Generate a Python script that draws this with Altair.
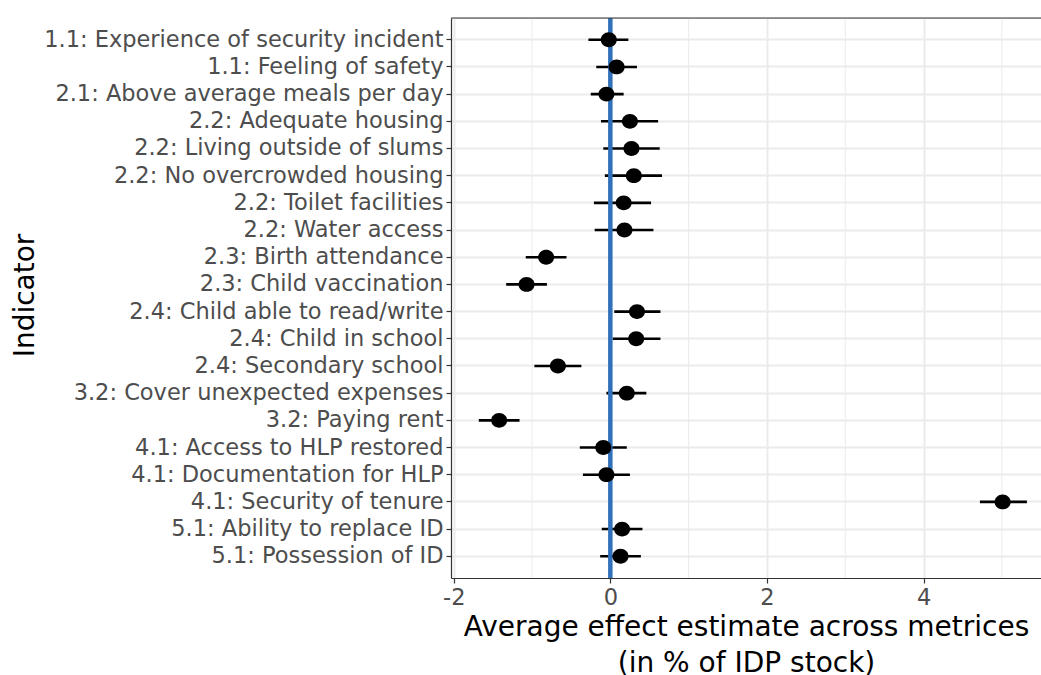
import altair as alt
import pandas as pd

indicators = [
    "1.1: Experience of security incident",
    "1.1: Feeling of safety",
    "2.1: Above average meals per day",
    "2.2: Adequate housing",
    "2.2: Living outside of slums",
    "2.2: No overcrowded housing",
    "2.2: Toilet facilities",
    "2.2: Water access",
    "2.3: Birth attendance",
    "2.3: Child vaccination",
    "2.4: Child able to read/write",
    "2.4: Child in school",
    "2.4: Secondary school",
    "3.2: Cover unexpected expenses",
    "3.2: Paying rent",
    "4.1: Access to HLP restored",
    "4.1: Documentation for HLP",
    "4.1: Security of tenure",
    "5.1: Ability to replace ID",
    "5.1: Possession of ID",
]
estimate = [-0.02, 0.08, -0.05, 0.25, 0.27, 0.30, 0.17, 0.18, -0.82, -1.07,
            0.34, 0.33, -0.67, 0.21, -1.42, -0.09, -0.05, 5.01, 0.15, 0.13]
ci_low = [-0.28, -0.18, -0.25, -0.12, -0.09, -0.07, -0.21, -0.20, -1.08, -1.33,
          0.05, 0.03, -0.97, -0.05, -1.68, -0.39, -0.35, 4.72, -0.11, -0.13]
ci_high = [0.23, 0.34, 0.17, 0.61, 0.63, 0.66, 0.52, 0.55, -0.56, -0.81,
           0.64, 0.64, -0.37, 0.46, -1.16, 0.21, 0.25, 5.32, 0.41, 0.39]
major_ticks = [-2, 0, 2, 4]
minor_breaks = [-1, 1, 3, 5]
reference_line = [0]

df = pd.DataFrame({"Indicator": indicators, "est": estimate, "lo": ci_low, "hi": ci_high})

FONT = "DejaVu Sans"
W, H = 590, 560
LABEL_SIZE = 22.5
TITLE_SIZE = 28
x_scale = alt.Scale(domain=[-2.035, 5.5], nice=False, zero=False)
y_scale = alt.Scale(padding=0.6)

y_axis = alt.Axis(
    title="Indicator", labelFontSize=LABEL_SIZE, labelColor="#4D4D4D", labelFont=FONT,
    titleFontSize=TITLE_SIZE, titleColor="black", titleFontWeight="normal", titleFont=FONT,
    tickColor="#333333", tickSize=5, tickWidth=1.2, labelPadding=3,
    domainColor="#333333", domainWidth=1.2, grid=True, gridColor="#EBEBEB",
    gridWidth=2, labelLimit=0, titleX=-418, titleY=H / 2 - 3, titleAngle=-90,
    titleBaseline="alphabetic", titleAlign="center",
)
x_axis = alt.Axis(
    values=major_ticks, title=["Average effect estimate across metrices", "(in % of IDP stock)"],
    labelExpr="datum.value < 0 ? '-' + abs(datum.value) : '' + datum.value",
    labelFontSize=LABEL_SIZE, labelColor="#4D4D4D", labelFont=FONT, labelPadding=3,
    titleFontSize=TITLE_SIZE, titleColor="black", titleFontWeight="normal", titleFont=FONT,
    titleLineHeight=36, titlePadding=5,
    tickColor="#333333", tickSize=5, tickWidth=1.2, domainColor="#333333",
    domainWidth=1.2, grid=True, gridColor="#EBEBEB", gridWidth=2,
)

minor = alt.Chart(pd.DataFrame({"m": minor_breaks})).mark_rule(
    color="#EBEBEB", strokeWidth=1
).encode(x=alt.X("m:Q", scale=x_scale, axis=x_axis))

bars = alt.Chart(df).mark_rule(color="black", strokeWidth=2.6).encode(
    x=alt.X("lo:Q", scale=x_scale),
    x2="hi:Q",
    y=alt.Y("Indicator:N", sort=indicators, scale=y_scale, axis=y_axis),
)

vline = alt.Chart(pd.DataFrame({"ref": reference_line})).mark_rule(
    color="#3171B9", strokeWidth=4.5
).encode(x=alt.X("ref:Q", scale=x_scale))

points = alt.Chart(df).mark_point(
    shape="M -1.08 0 A 1.08 1 0 1 0 1.08 0 A 1.08 1 0 1 0 -1.08 0 Z",
    filled=True, color="black", size=220, opacity=1
).encode(
    x=alt.X("est:Q", scale=x_scale),
    y=alt.Y("Indicator:N", sort=indicators, scale=y_scale),
)

top_border = alt.Chart(pd.DataFrame({"ref": reference_line})).mark_rule(
    color="#333333", strokeWidth=1.2
).encode(x=alt.value(0), x2=alt.value(W), y=alt.value(0))

chart = alt.layer(minor, bars, vline, points, top_border).properties(
    width=W, height=H,
    autosize=alt.AutoSizeParams(type="none"),
    padding={"left": 451, "top": 18, "right": 0, "bottom": 97},
).configure_view(stroke=None).configure(font=FONT, background="white")

chart.save("out.html", embed_options={"renderer": "svg", "actions": False})
